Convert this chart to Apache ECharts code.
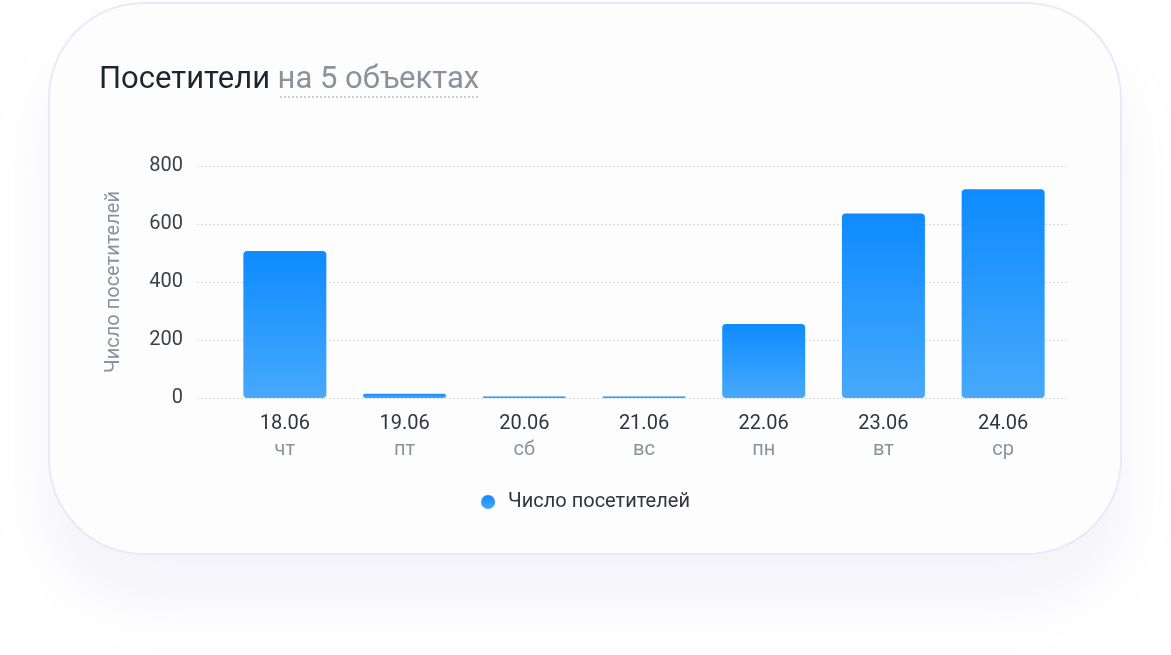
<!DOCTYPE html>
<html>
<head>
<meta charset="utf-8">
<script src="https://cdn.jsdelivr.net/npm/echarts@6/dist/echarts.min.js"></script>
<style>
  html, body { margin: 0; padding: 0; background: #fff; }
  #card {
    position: absolute; left: 48px; top: 2px; width: 1070px; height: 549px;
    border: 2px solid #e9e9fc; border-radius: 96px; background: #fdfdfe;
    box-shadow: 0 45px 60px rgba(160, 160, 210, 0.13);
  }
  #chart { position: absolute; left: 0; top: 0; width: 1171px; height: 655px; }
</style>
</head>
<body>
<div id="card"></div>
<div id="chart"></div>
<script>
// подписи категорий
const DATES = ['18.06', '19.06', '20.06', '21.06', '22.06', '23.06', '24.06'];
const WEEKDAYS = ['чт', 'пт', 'сб', 'вс', 'пн', 'вт', 'ср'];
// число посетителей по дням
const VISITORS = [507, 15, 5, 5, 255, 636, 720];
const Y_TICKS = [0, 200, 400, 600, 800];

const chart = echarts.init(document.getElementById('chart'));
const FONT = 'Roboto, "Noto Sans", sans-serif';

const option = {
  textStyle: { fontFamily: FONT },
  title: {
    left: 94,
    top: 60,
    text: '{a|Посетители} {b|на 5 объектах}',
    textStyle: {
      fontWeight: 'normal',
      rich: {
        a: { fontSize: 31, color: '#1f2430', fontWeight: 'normal', fontFamily: FONT },
        b: { fontSize: 31, color: '#8a929d', fontWeight: 'normal', fontFamily: FONT, padding: [0, 0, 0, 3] }
      }
    }
  },
  graphic: [{
    type: 'line',
    shape: { x1: 280, y1: 97, x2: 479, y2: 97 },
    style: { stroke: '#9aa1ab', lineWidth: 1, lineDash: [2, 2] }
  }],
  legend: {
    left: 'center',
    top: 487,
    icon: 'circle',
    itemWidth: 14,
    itemHeight: 14,
    itemGap: 10,
    textStyle: { fontSize: 20, color: '#2f3441', fontFamily: FONT, padding: [0, 0, 0, 8] },
    data: ['Число посетителей']
  },
  grid: [
    { left: 197, right: 103, top: 166, bottom: 257 }, // сетка и подписи оси Y
    { left: 225, right: 108, top: 166, bottom: 257 }  // столбцы
  ],
  xAxis: [
    { gridIndex: 0, type: 'value', min: 0, max: 1, show: false },
    {
      gridIndex: 1,
      type: 'category',
      data: DATES,
      axisLine: { show: false },
      axisTick: { show: false },
      axisLabel: {
        margin: 13,
        formatter: (v, i) => `{d|${v}}\n{w|${WEEKDAYS[i]}}`,
        rich: {
          d: { fontSize: 20, color: '#2f3441', lineHeight: 26, fontFamily: FONT },
          w: { fontSize: 20, color: '#8a929d', lineHeight: 26, fontFamily: FONT }
        }
      }
    }
  ],
  yAxis: [
    {
      gridIndex: 0,
      type: 'value',
      min: Y_TICKS[0],
      max: Y_TICKS[Y_TICKS.length - 1],
      interval: 200,
      name: 'Число посетителей',
      nameLocation: 'middle',
      nameGap: 73,
      nameTextStyle: { fontSize: 20, color: '#8a929d', fontFamily: FONT },
      axisLine: { show: false },
      axisTick: { show: false },
      axisLabel: { margin: 14, fontSize: 20, color: '#3a3f4a', fontFamily: FONT },
      splitLine: { lineStyle: { color: '#d9dbe0', type: [2, 2], width: 1 } }
    },
    { gridIndex: 1, type: 'value', min: 0, max: 800, show: false }
  ],
  series: [{
    name: 'Число посетителей',
    type: 'bar',
    xAxisIndex: 1,
    yAxisIndex: 1,
    data: VISITORS,
    barWidth: 83,
    itemStyle: {
      borderRadius: 4,
      color: new echarts.graphic.LinearGradient(0, 0, 0, 1, [
        { offset: 0, color: '#0d8bff' },
        { offset: 1, color: '#47a9fc' }
      ])
    }
  }]
};

chart.setOption(option);
</script>
</body>
</html>
